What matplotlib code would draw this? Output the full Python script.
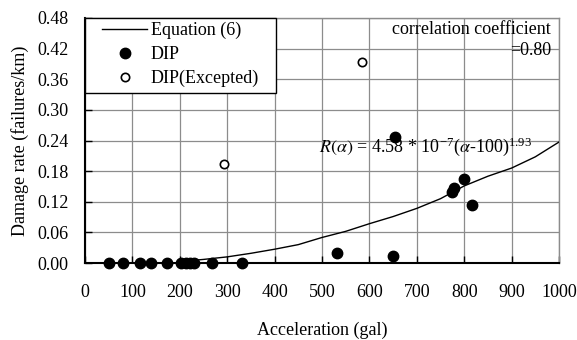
import matplotlib
matplotlib.use("Agg")
import matplotlib.pyplot as plt
from matplotlib.patches import Rectangle

# Equation (6) curve
eq_acc = [200, 250, 300, 350, 400, 450, 500, 550, 600, 650, 700, 750, 800, 850, 900, 950, 1000]
eq_rate = [0.003, 0.007, 0.012, 0.019, 0.027, 0.036, 0.050, 0.062, 0.077, 0.091, 0.107, 0.126,
           0.151, 0.170, 0.186, 0.208, 0.237]

# DIP data
dip_acc = [51, 81, 115, 139, 172, 203, 213, 222, 230, 267, 332, 531, 649, 655, 775, 778, 800, 817]
dip_rate = [0, 0, 0, 0, 0, 0, 0, 0, 0, 0, 0, 0.020, 0.014, 0.247, 0.140, 0.146, 0.164, 0.114]

# DIP (Excepted)
exc_acc = [294, 584]
exc_rate = [0.193, 0.394]

xticks = [0, 100, 200, 300, 400, 500, 600, 700, 800, 900, 1000]
yticks = [0.00, 0.06, 0.12, 0.18, 0.24, 0.30, 0.36, 0.42, 0.48]

plt.rcParams['font.family'] = ['Liberation Serif', 'DejaVu Serif']
plt.rcParams['mathtext.fontset'] = 'stix'

FS = 13

fig = plt.figure(figsize=(5.77, 3.40), dpi=100)
ax = fig.add_axes([85/577, 1 - 263/340, (559-85)/577, (263-18)/340])

ax.plot(eq_acc, eq_rate, color='black', lw=1.0, label='Equation (6)', zorder=3)
ax.plot(dip_acc, dip_rate, 'o', color='black', ms=7.5, label='DIP', zorder=4, clip_on=False)
ax.plot(exc_acc, exc_rate, 'o', mfc='white', mec='black', mew=1.2, ms=6, label='DIP(Excepted)', zorder=4)

ax.set_xlim(0, 1000)
ax.set_ylim(0, 0.48)
ax.set_xticks(xticks)
ax.set_yticks(yticks)
ax.set_xticklabels([str(v) for v in xticks])
ax.set_yticklabels([f"{v:.2f}" for v in yticks])
ax.grid(True, color='#8c8c8c', lw=0.9)
ax.set_axisbelow(True)
ax.tick_params(axis='x', direction='in', length=5, width=1, pad=15, labelsize=FS)
ax.tick_params(axis='y', direction='in', length=5, width=1, pad=12, labelsize=FS)
for s in ['top', 'right']:
    ax.spines[s].set_color('#8c8c8c')
    ax.spines[s].set_linewidth(1)
for s in ['left', 'bottom']:
    ax.spines[s].set_color('black')
    ax.spines[s].set_linewidth(1.5)

ax.set_xlabel('Acceleration (gal)', fontsize=FS, labelpad=15)
ax.set_ylabel('Damage rate (failures/km)', fontsize=FS, labelpad=6)

# legend box drawn as a rectangle in axes coordinates
box = Rectangle((0, (263-93)/245), (276-85)/474, 1 - (263-93)/245, transform=ax.transAxes,
                facecolor='white', edgecolor='black', lw=1.0, zorder=9, clip_on=False)
ax.add_patch(box)

leg = ax.legend(loc='upper left', bbox_to_anchor=((102-85)/474, (263-22)/245), frameon=False,
                fontsize=FS, borderaxespad=0, borderpad=0, handlelength=2.5,
                labelspacing=0.37, handletextpad=0.2)
leg.set_zorder(10)

ax.text(0.983, 0.955, 'correlation coefficient', transform=ax.transAxes, ha='right', va='center', fontsize=FS, zorder=6)
ax.text(0.983, 0.869, '=0.80', transform=ax.transAxes, ha='right', va='center', fontsize=FS, zorder=6)
ax.text(0.494, 0.473, r'$R(\alpha)$ = 4.58 * 10$^{\mathregular{-7}}$($\alpha$-100)$^{\mathregular{1.93}}$',
        transform=ax.transAxes, ha='left', va='center', fontsize=FS, zorder=6)

fig.savefig('out.png', dpi=100)
